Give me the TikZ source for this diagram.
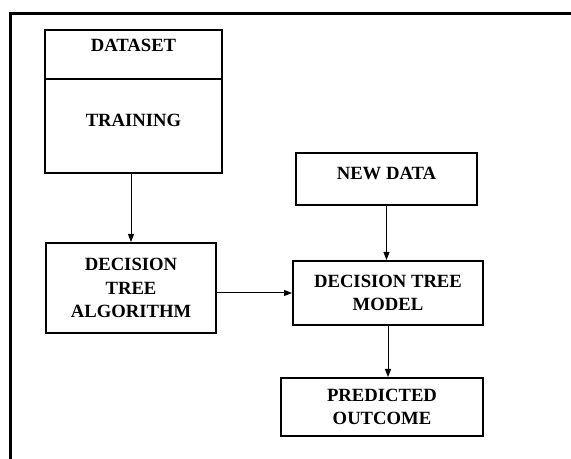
\documentclass[tikz,border=0pt]{standalone}
\usepackage{fontspec}
\setmainfont{Liberation Serif}
\usepackage{tikz}
\usetikzlibrary{positioning,arrows.meta}

\begin{document}
\begin{tikzpicture}[x=0.75pt,y=-0.75pt,
        blk/.style={rectangle,draw=black,line width=1.5pt,align=center,
                    inner sep=2pt,font=\fontsize{14}{17.5}\selectfont\bfseries},
        flow/.style={-{Triangle[length=6pt,width=4.5pt]},line width=0.75pt}]
        \useasboundingbox (0,0) rectangle (571,459);
        \draw[line width=2pt] (10.5,459) |- (571,13.5);
        \node[blk,minimum width=132.75pt,minimum height=36.75pt,text depth=13.5pt]
          (dataset) at (133.5,54.5) {DATASET};
        \node[blk,minimum width=132.75pt,minimum height=70.5pt,text depth=9pt]
          (training) at (133.5,126) {TRAINING};
        \node[blk,minimum width=127.5pt,minimum height=67.5pt]
          (algorithm) at (131,288) {DECISION\\TREE\\ALGORITHM};
        \node[blk,minimum width=135.75pt,minimum height=39pt,text depth=8pt]
          (newdata) at (386.5,179) {NEW DATA};
        \node[blk,minimum width=142.5pt,minimum height=48pt]
          (model) at (388,293) {DECISION TREE\\MODEL};
        \node[blk,minimum width=151.5pt,minimum height=43.5pt]
          (predicted) at (382,407) {PREDICTED\\OUTCOME};
        \draw[flow] (algorithm.north |- training.south) -- (algorithm.north);
        \draw[flow] (algorithm.east |- model.west) -- (model.west);
        \draw[flow] (newdata.south) -- (newdata.south |- model.north);
        \draw[flow] (model.south) -- (model.south |- predicted.north);
      \end{tikzpicture}
\end{document}
